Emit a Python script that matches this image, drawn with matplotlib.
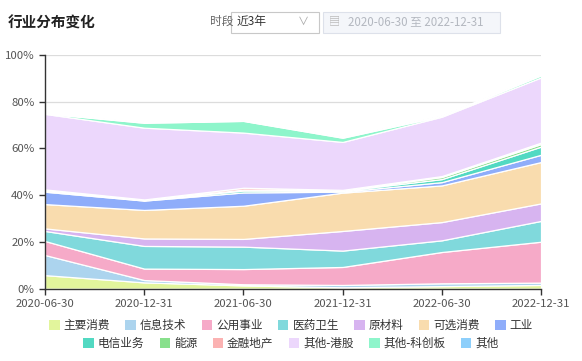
import matplotlib.pyplot as plt
from matplotlib.patches import Patch, FancyBboxPatch
from matplotlib.ticker import FuncFormatter

plt.rcParams['font.family'] = ['Noto Sans CJK SC', 'DejaVu Sans']

dates = ['2020-06-30', '2020-12-31', '2021-06-30', '2021-12-31', '2022-06-30', '2022-12-31']

names = ['主要消费', '信息技术', '公用事业', '医药卫生', '原材料', '可选消费', '工业',
         '电信业务', '能源', '金融地产', '其他-港股', '其他-科创板', '其他']

zhuyao = [5.8, 2.7, 1.4, 0.6, 1.1, 1.6]
xinxi = [8.6, 1.0, 0.5, 1.0, 1.2, 1.0]
gongyong = [6.0, 4.9, 6.5, 7.7, 13.4, 17.5]
yiyao = [4.3, 9.7, 9.6, 7.0, 5.0, 8.9]
yuancailiao = [1.1, 3.2, 3.3, 8.4, 7.8, 7.5]
kexuan = [10.4, 12.2, 14.2, 16.4, 15.7, 17.7]
gongye = [5.3, 4.0, 5.7, 0.4, 1.4, 3.1]
dianxin = [0.5, 0.2, 0.8, 0.4, 1.3, 3.5]
nengyuan = [0.2, 0.1, 0.4, 0.2, 0.9, 1.1]
jinrong = [0.3, 0.2, 0.8, 0.2, 0.4, 0.6]
ganggu = [32.3, 30.7, 23.6, 20.5, 25.4, 27.9]
kechuang = [0.2, 2.1, 5.0, 1.8, 0.3, 0.9]
qita = [0.1, 0.3, 0.2, 0.3, 0.3, 0.3]

series = [zhuyao, xinxi, gongyong, yiyao, yuancailiao, kexuan, gongye,
          dianxin, nengyuan, jinrong, ganggu, kechuang, qita]

colors = ['#e2f59c', '#acd4ee', '#f6aac8', '#80d9dc', '#d7b4f0', '#f9dcae', '#8fadfa',
          '#52d9c2', '#88e08c', '#fbb2b2', '#ecd7fc', '#8ef5cb', '#8dcffb']

fig = plt.figure(figsize=(5.82, 3.61), dpi=100)
ax = fig.add_axes([0.0773, 0.2003, 0.8523, 0.6473])

x = list(range(len(dates)))
ax.stackplot(x, *[[v / 100 for v in s] for s in series], colors=colors,
             edgecolor='white', linewidth=0.9, zorder=2)

ax.set_xlim(0, len(dates) - 1)
ax.set_ylim(0, 1)
ax.set_yticks([0, 0.2, 0.4, 0.6, 0.8, 1.0])
ax.yaxis.set_major_formatter(FuncFormatter(lambda v, p: f'{v * 100:.0f}%'))
ax.set_xticks(x)
ax.set_xticklabels(dates)
ax.grid(axis='y', color='#dcdcdc', linewidth=0.9, zorder=0)
ax.set_axisbelow(True)
for side in ['top', 'right']:
    ax.spines[side].set_visible(False)
for side in ['left', 'bottom']:
    ax.spines[side].set_color('#333333')
    ax.spines[side].set_linewidth(1)
ax.tick_params(colors='#333333', labelcolor='#555555', labelsize=8.2, length=4, width=1)

# title and controls
fig.text(0.014, 0.938, '行业分布变化', fontsize=10.5, fontweight='bold', color='#222222', va='center')
fig.text(0.36, 0.94, '时段', fontsize=8.5, color='#666666', va='center')
fig.patches.append(FancyBboxPatch((231 / 582, 1 - 33 / 361), 88 / 582, 21 / 361,
                                  boxstyle='square,pad=0', transform=fig.transFigure,
                                  facecolor='white', edgecolor='#c8c8c8', linewidth=0.8))
fig.text(237 / 582, 0.94, '近3年', fontsize=8.5, color='#333333', va='center')
fig.text(303 / 582, 0.94, '∨', fontsize=8, color='#aaaaaa', va='center', ha='center')
fig.patches.append(FancyBboxPatch((323 / 582, 1 - 33 / 361), 177 / 582, 21 / 361,
                                  boxstyle='square,pad=0', transform=fig.transFigure,
                                  facecolor='#f4f6fa', edgecolor='#dde1ea', linewidth=0.8))
fig.text(334 / 582, 0.94, '▤', fontsize=8, color='#bbbbbb', va='center', ha='center')
fig.text(348 / 582, 0.94, '2020-06-30 至 2022-12-31', fontsize=8.3, color='#b4b8c0', va='center')

handles = [Patch(facecolor=c, edgecolor='none') for c in colors]
leg1 = fig.legend(handles[:7], names[:7], loc='center', bbox_to_anchor=(0.5, 0.099), ncol=7,
                  frameon=False, fontsize=8.4, handlelength=0.9, handleheight=0.9,
                  handletextpad=0.35, columnspacing=1.3)
leg2 = fig.legend(handles[7:], names[7:], loc='center', bbox_to_anchor=(0.5, 0.049), ncol=6,
                  frameon=False, fontsize=8.4, handlelength=0.9, handleheight=0.9,
                  handletextpad=0.35, columnspacing=1.3)
for leg in (leg1, leg2):
    for t in leg.get_texts():
        t.set_color('#333333')

fig.savefig('out.png', dpi=100)
